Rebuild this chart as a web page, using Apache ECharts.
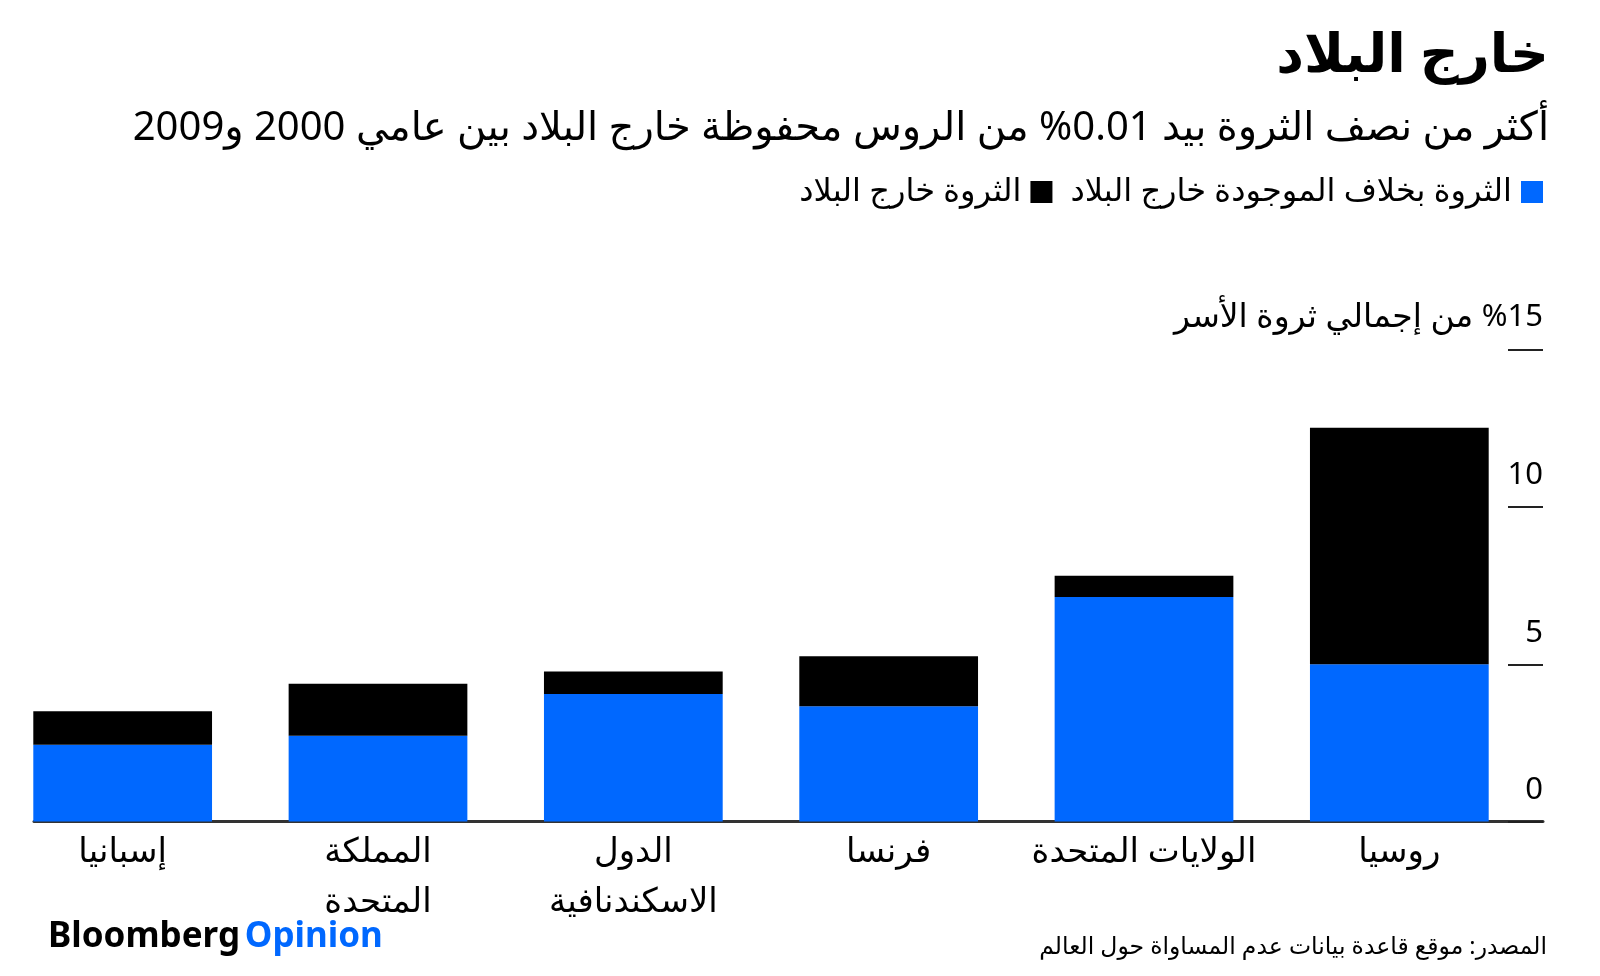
<!DOCTYPE html>
<html lang="ar">
<head>
<meta charset="utf-8">
<script src="https://cdn.jsdelivr.net/npm/echarts@6/dist/echarts.min.js"></script>
<style>
html,body{margin:0;padding:0;background:#fff;}
#chart{width:1600px;height:976px;direction:rtl;}
</style>
</head>
<body>
<div id="chart"></div>
<script>
// ---- data ----
const categories = ['روسيا', 'الولايات المتحدة', 'فرنسا', 'الدول\nالاسكندنافية', 'المملكة\nالمتحدة', 'إسبانيا'];
const domestic = [5.0, 7.14, 3.67, 4.06, 2.73, 2.44];
const abroad = [7.53, 0.68, 1.59, 0.71, 1.65, 1.07];
const seriesNames = ['الثروة بخلاف الموجودة خارج البلاد', 'الثروة خارج البلاد'];
const yTicks = [0, 5, 10, 15];
const yUnit = ' من إجمالي ثروة الأسر';

const FONT = "'Noto Sans', 'DejaVu Sans', sans-serif";
const BLUE = '#0068ff';

const chart = echarts.init(document.getElementById('chart'), null, {renderer: 'canvas'});
chart.setOption({
  animation: false,
  backgroundColor: '#fff',
  textStyle: {fontFamily: FONT},
  title: [
    {text: 'خارج البلاد', right: 46, top: 25,
     textStyle: {fontSize: 54, fontWeight: 'bold', color: '#000', fontFamily: FONT}},
    {text: 'أكثر من نصف الثروة بيد 0.01% من الروس محفوظة خارج البلاد بين عامي 2000 و2009', right: 46, top: 104,
     textStyle: {fontSize: 40, fontWeight: 'normal', color: '#000', fontFamily: FONT}},
    {text: 'المصدر: موقع قاعدة بيانات عدم المساواة حول العالم', right: 48, top: 930,
     textStyle: {fontSize: 23.5, fontWeight: 'normal', color: '#000', fontFamily: FONT}},
    {text: '{a|Bloomberg} {b|Opinion}', left: 43, top: 915,
     textStyle: {rich: {
       a: {fontSize: 35, fontWeight: 'bold', color: '#000', fontFamily: FONT},
       b: {fontSize: 35, fontWeight: 'bold', color: BLUE, fontFamily: FONT}
     }}}
  ],
  legend: {
    data: [seriesNames[1], seriesNames[0]],
    right: 52, top: 171,
    align: 'right',
    itemWidth: 22, itemHeight: 22, itemGap: 18,
    icon: 'rect',
    textStyle: {fontSize: 32, color: '#000', fontFamily: FONT, padding: [0, 4, 0, 4]}
  },
  grid: [
    {left: -5, right: 73, top: 350, bottom: 154.5, containLabel: false, outerBoundsMode: 'none'},
    {left: 34, right: 57, top: 350, bottom: 154.5, containLabel: false, outerBoundsMode: 'none'}
  ],
  xAxis: [
    {type: 'category', gridIndex: 0, data: categories, inverse: true,
     axisLine: {show: false}, axisTick: {show: false},
     axisLabel: {interval: 0, fontSize: 34, color: '#000', lineHeight: 50, margin: 6, fontFamily: FONT}},
    {type: 'value', gridIndex: 1, min: 0, max: 1,
     axisLine: {show: true, onZero: true, lineStyle: {color: '#333', width: 3}},
     axisTick: {show: false}, axisLabel: {show: false}, splitLine: {show: false}}
  ],
  yAxis: [
    {type: 'value', gridIndex: 0, min: 0, max: 15, interval: 5, show: false},
    {type: 'value', gridIndex: 1, min: 0, max: 15, interval: 5, position: 'right',
     axisLine: {show: false, onZero: false},
     splitLine: {show: false},
     axisTick: {show: true, inside: true, length: 35, lineStyle: {color: '#222', width: 2}},
     axisLabel: {inside: true, margin: 0, align: 'right', verticalAlign: 'bottom',
       color: '#000', padding: [0, 0, 16, 0], fontFamily: FONT,
       rich: {n: {fontSize: 31, fontFamily: FONT}, t: {fontSize: 33, fontFamily: FONT}},
       formatter: function (v) {
         return v === yTicks[yTicks.length - 1] ? '{t|' + yUnit + '}{n|%' + v + '}' : '{n|' + v + '}';
       }}}
  ],
  series: [
    {name: seriesNames[0], type: 'bar', stack: 'w', xAxisIndex: 0, yAxisIndex: 0,
     data: domestic, barCategoryGap: '30%', itemStyle: {color: BLUE}},
    {name: seriesNames[1], type: 'bar', stack: 'w', xAxisIndex: 0, yAxisIndex: 0,
     data: abroad, barCategoryGap: '30%', itemStyle: {color: '#000'}}
  ]
});
</script>
</body>
</html>
